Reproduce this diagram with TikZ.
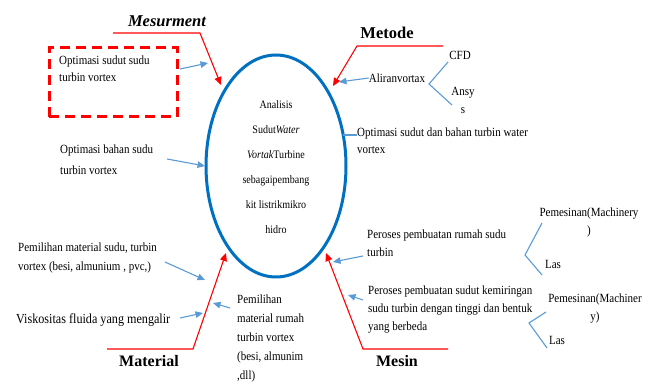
\documentclass[tikz,border=0pt]{standalone}
\usepackage{fontspec}
\setmainfont{Liberation Serif}
\newfontfamily\condser[FakeStretch=0.88]{Liberation Serif}
\usetikzlibrary{arrows.meta}
\definecolor{ared}{HTML}{FF0000}
\definecolor{ablue}{HTML}{5B9BD5}
\definecolor{eblue}{HTML}{0070C0}
\begin{document}
\begin{tikzpicture}[x=1pt,y=-1pt,
  lbl/.style={inner sep=0pt, anchor=north west, align=left, font=\condser\fontsize{12.5}{17}\selectfont},
  smalltxt/.style={inner sep=0pt, align=center, font=\condser\fontsize{12.5}{18}\selectfont},
  ttl/.style={inner sep=0pt, font=\fontsize{16.5}{18}\selectfont\bfseries},
  barrow/.style={ablue, line width=1.1pt, -{Triangle[length=7.5pt,width=6.5pt]}},
  rarrow/.style={ared, line width=1.1pt, -{Triangle[length=8pt,width=7pt]}},
  bline/.style={ablue, line width=1.1pt},
  dbox/.style={draw=ared, line width=3pt, dash pattern=on 10pt off 6pt, minimum width=128pt, minimum height=69pt, inner sep=0pt}]
\useasboundingbox (0,0) rectangle (654,387);

% central ellipse
\draw[eblue, line width=3pt] (276,166) ellipse [x radius=70, y radius=111];
\node[inner sep=0pt, align=center, font=\condser\fontsize{11.4}{25}\selectfont] (main) at (276,167)
  {Analisis\\Sudut\textit{Water}\\\textit{Vortak}Turbine\\sebagaipembang\\kit listrikmikro\\hidro};

% titles
\node[ttl, font=\fontsize{16.5}{18}\selectfont\bfseries\itshape] (mes) at (167,21) {Mesurment};
\node[ttl] (met) at (387,33) {Metode};
\node[ttl, font=\fontsize{16}{18}\selectfont\bfseries] (mat) at (149,361) {Material};
\node[ttl, font=\fontsize{16}{18}\selectfont\bfseries] (msn) at (397,361) {Mesin};

% red dashed box
\node[dbox] (box) at (113,82.5) {};

% labels
\node[lbl] (opt1) at (59,56) {Optimasi sudut sudu\\turbin vortex};
\node[lbl, font=\condser\fontsize{12.5}{21}\selectfont] (opt2) at (60,145) {Optimasi bahan sudu\\turbin vortex};
\node[lbl] (opt3) at (357,128) {Optimasi sudut dan bahan turbin water\\vortex};
\node[lbl, font=\condser\fontsize{12.5}{19}\selectfont] (pem1) at (18,243) {Pemilihan material sudu, turbin\\vortex (besi, almunium , pvc,)};
\node[inner sep=0pt, anchor=west, font=\condser\fontsize{13.8}{14}\selectfont] (visk) at (16,320) {Viskositas fluida yang mengalir};
\node[lbl, font=\condser\fontsize{12.5}{19}\selectfont] (pem2) at (237,295) {Pemilihan\\material rumah\\turbin vortex\\(besi, almunim\\,dll)};
\node[lbl, font=\condser\fontsize{12.5}{18}\selectfont] (per1) at (367,230) {Peroses pembuatan rumah sudu\\turbin};
\node[lbl, font=\condser\fontsize{12.5}{18}\selectfont] (per2) at (368,286) {Peroses pembuatan sudut kemiringan\\sudu turbin dengan tinggi dan bentuk\\yang berbeda};
\node[smalltxt] (alir) at (397,78) {Aliranvortax};
\node[smalltxt] (cfd) at (460,55) {CFD};
\node[smalltxt, anchor=north] (ansys) at (463,87) {Ansy\\s};
\node[smalltxt] (mach1) at (589,222) {Pemesinan(Machinery\\)};
\node[smalltxt] (las1) at (553,264) {Las};
\node[smalltxt] (mach2) at (595,309) {Pemesinan(Machiner\\y)};
\node[smalltxt] (las2) at (557,340) {Las};

% red connectors
\coordinate (ms1) at (113,33); \coordinate (ms2) at (200,33); \coordinate (mst) at (221,85);
\draw[rarrow] (ms1) -- (ms2) -- (mst);
\coordinate (mt1) at (443,46); \coordinate (mt2) at (357,46); \coordinate (mtt) at (333,86);
\draw[rarrow] (mt1) -- (mt2) -- (mtt);
\coordinate (ma1) at (107,349); \coordinate (ma2) at (193,349); \coordinate (mat) at (226,253);
\draw[rarrow] (ma1) -- (ma2) -- (mat);
\coordinate (mn1) at (448,349); \coordinate (mn2) at (363,349); \coordinate (mnt) at (326,253);
\draw[rarrow] (mn1) -- (mn2) -- (mnt);

% blue connectors
\coordinate (a1s) at (180,69); \coordinate (a1e) at (208,63);
\draw[barrow] (a1s) -- (a1e);
\coordinate (a2s) at (167,159); \coordinate (a2e) at (205,166);
\draw[barrow] (a2s) -- (a2e);
\coordinate (a3e) at (339,82);
\draw[barrow] (alir.west) -- (a3e);
\coordinate (a4s) at (343,135);
\draw[bline] (a4s) -- (opt3.north west |- a4s);
\coordinate (a5s) at (165,262); \coordinate (a5e) at (205,280);
\draw[barrow] (a5s) -- (a5e);
\coordinate (a6s) at (180,318); \coordinate (a6e) at (203,313);
\draw[barrow] (a6s) -- (a6e);
\coordinate (a7s) at (230,308); \coordinate (a7e) at (213,303);
\draw[barrow] (a7s) -- (a7e);
\coordinate (a8s) at (363,256); \coordinate (a8e) at (333,262);
\draw[barrow] (a8s) -- (a8e);
\coordinate (a9s) at (363,300); \coordinate (a9e) at (348,295);
\draw[barrow] (a9s) -- (a9e);

% brackets
\coordinate (v1) at (429,84); \coordinate (v1a) at (448,62); \coordinate (v1b) at (452,105);
\draw[bline] (v1a) -- (v1) -- (v1b);
\coordinate (v2) at (525,255); \coordinate (v2a) at (542,223); \coordinate (v2b) at (542,275);
\draw[bline] (v2a) -- (v2) -- (v2b);
\coordinate (v3) at (529,323); \coordinate (v3a) at (546,312); \coordinate (v3b) at (547,348);
\draw[bline] (v3a) -- (v3) -- (v3b);
\end{tikzpicture}
\end{document}
